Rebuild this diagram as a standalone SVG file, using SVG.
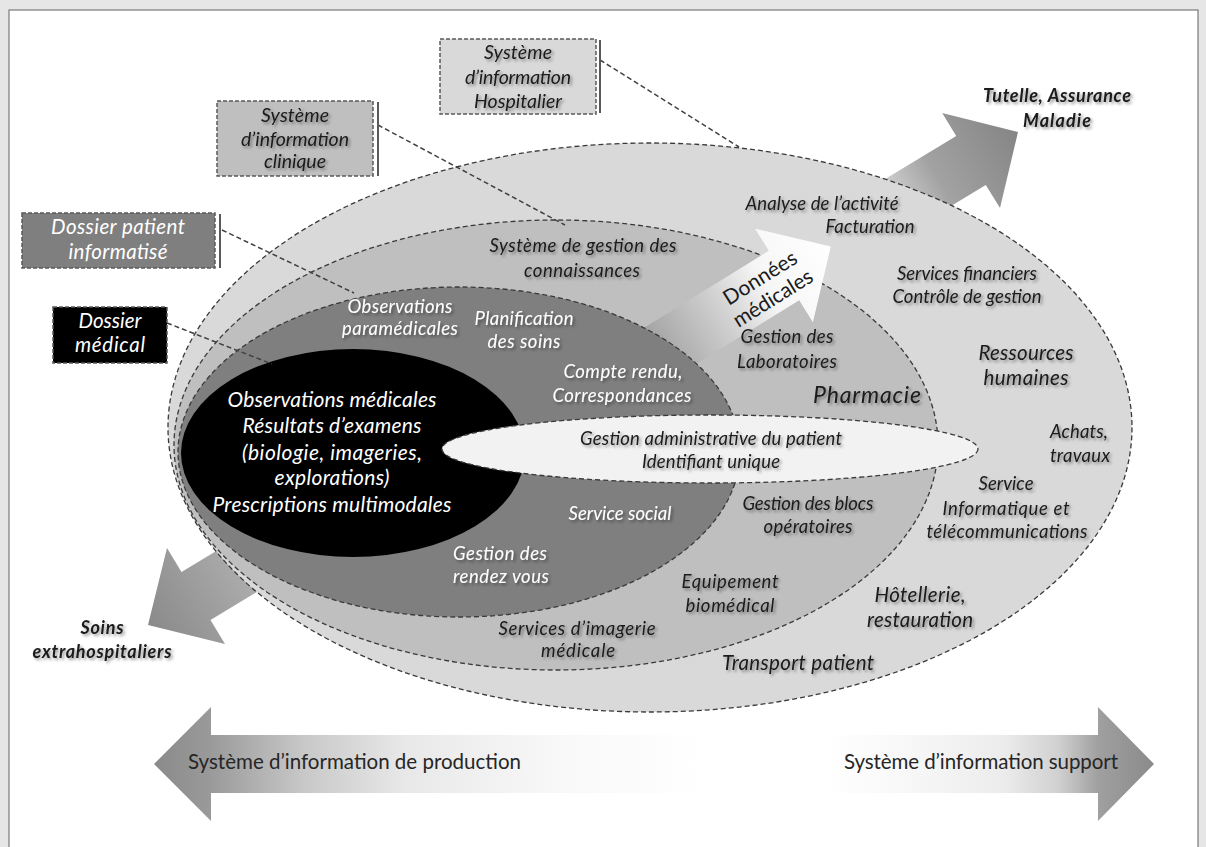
<svg xmlns="http://www.w3.org/2000/svg" width="1206" height="847" viewBox="0 0 1206 847">
<style>
.t{font-family:Lato,"Open Sans","Liberation Sans",sans-serif;font-style:italic;font-size:18.5px;fill:#1a1a1a;text-anchor:middle}
.w{fill:#ffffff}
.big{font-size:20.5px}
.bx{font-size:19.5px}
.bold{font-weight:bold}
.n{font-style:normal}
.ell{stroke:#3a3a3a;stroke-width:1.3;stroke-dasharray:5 3}
.box{stroke:#595959;stroke-width:1.5;stroke-dasharray:4 2}
.con{fill:none;stroke:#404040;stroke-width:1.5;stroke-dasharray:5 3}
.bar{stroke:#595959;stroke-width:2}
</style>
<defs>
<filter id="sh" x="-10%" y="-30%" width="120%" height="160%">
<feDropShadow dx="2" dy="2" stdDeviation="1.6" flood-color="#000" flood-opacity="0.4"/>
</filter>
<linearGradient id="gDon" gradientUnits="userSpaceOnUse" x1="648" y1="359.5" x2="831" y2="246.6">
<stop offset="0" stop-color="#9c9c9c"/><stop offset="0.4" stop-color="#cfcfcf"/><stop offset="0.65" stop-color="#f6f6f6"/><stop offset="1" stop-color="#ffffff"/>
</linearGradient>
<linearGradient id="gTut" gradientUnits="userSpaceOnUse" x1="843" y1="238" x2="1018" y2="132">
<stop offset="0" stop-color="#dadada"/><stop offset="0.3" stop-color="#d2d2d2"/><stop offset="0.55" stop-color="#a2a2a2"/><stop offset="1" stop-color="#858585"/>
</linearGradient>
<linearGradient id="gSoi" gradientUnits="userSpaceOnUse" x1="324.5" y1="518.3" x2="148" y2="625">
<stop offset="0" stop-color="#c4c4c4"/><stop offset="0.4" stop-color="#b0b0b0"/><stop offset="1" stop-color="#8a8a8a"/>
</linearGradient>
<linearGradient id="gBot" gradientUnits="userSpaceOnUse" x1="154" y1="0" x2="1154" y2="0">
<stop offset="0" stop-color="#8a8a8a"/><stop offset="0.057" stop-color="#9a9a9a"/><stop offset="0.15" stop-color="#c8c8c8"/><stop offset="0.25" stop-color="#e8e8e8"/><stop offset="0.4" stop-color="#f8f8f8"/><stop offset="0.55" stop-color="#ffffff"/><stop offset="0.67" stop-color="#ffffff"/><stop offset="0.75" stop-color="#f8f8f8"/><stop offset="0.85" stop-color="#ececec"/><stop offset="0.905" stop-color="#d0d0d0"/><stop offset="0.944" stop-color="#a0a0a0"/><stop offset="1" stop-color="#8a8a8a"/>
</linearGradient>
</defs>

<rect x="0" y="0" width="1206" height="847" fill="#e6e6e6"/>
<rect x="9" y="10" width="1189" height="845" fill="#ffffff" stroke="#7a7a7a" stroke-width="1.2"/>

<g id="arrow-soins">
<polygon points="310,494.3 339,542.3 210.5,620 225,644 148,625 167,548 181.5,572" fill="url(#gSoi)"/>
</g>
<g id="arrow-tutelle">
<polygon points="828.2,213.6 956.2,136.1 942.2,113 1018,132 1000,208 985.8,184.9 857.8,262.4" fill="url(#gTut)"/>
</g>

<g id="si-hospitalier-zone">
<ellipse cx="650" cy="427.5" rx="482" ry="284.5" fill="#d9d9d9" class="ell"/>
</g>
<g id="si-clinique-zone">
<ellipse cx="556" cy="445" rx="382" ry="225" fill="#bfbfbf" class="ell"/>
</g>
<g id="arrow-donnees">
<polygon points="632.8,334.8 768.8,250.8 755.1,228.7 830.8,246.6 812.9,322.3 799.2,300.2 663.2,384.2" fill="url(#gDon)"/>
</g>
<g id="dpi-zone">
<ellipse cx="459" cy="452" rx="281" ry="165" fill="#7f7f7f" class="ell"/>
</g>
<g id="dossier-medical-zone">
<ellipse cx="353" cy="453" rx="172" ry="104" fill="#000000"/>
</g>
<g id="gestion-admin-zone">
<ellipse cx="710" cy="449" rx="268" ry="34" fill="#f2f2f2" class="ell"/>
</g>

<g id="connectors">
<line class="con" x1="600" y1="60" x2="739" y2="147"/>
<line class="con" x1="378" y1="125" x2="565" y2="225"/>
<line class="con" x1="222" y1="230" x2="354" y2="293"/>
<line class="con" x1="167" y1="323" x2="272" y2="364"/>
</g>

<g id="box-hospitalier">
<rect x="440" y="39" width="156" height="75" fill="#d9d9d9" class="box"/>
<line class="bar" x1="600" y1="40" x2="600" y2="113"/>
<g class="t bx" filter="url(#sh)">
<text x="518" y="59" textLength="68">Système</text>
<text x="518" y="84" textLength="106">d’information</text>
<text x="518" y="108" textLength="88">Hospitalier</text>
</g>
</g>
<g id="box-clinique">
<rect x="217" y="101" width="156" height="75" fill="#bfbfbf" class="box"/>
<line class="bar" x1="378" y1="102" x2="378" y2="176"/>
<g class="t bx" filter="url(#sh)">
<text x="295" y="122" textLength="68">Système</text>
<text x="295" y="146" textLength="108">d’information</text>
<text x="295" y="168" textLength="62">clinique</text>
</g>
</g>
<g id="box-dpi">
<rect x="22" y="213" width="193" height="55" fill="#7f7f7f" class="box"/>
<line class="bar" x1="220" y1="214" x2="220" y2="268"/>
<g class="t w big">
<text x="118" y="234" textLength="134">Dossier patient</text>
<text x="118" y="259" textLength="99">informatisé</text>
</g>
</g>
<g id="box-dossier-medical">
<rect x="53" y="307" width="114" height="56" fill="#000000" class="box"/>
<g class="t w big">
<text x="110" y="328" textLength="63">Dossier</text>
<text x="110" y="352" textLength="70">médical</text>
</g>
</g>

<g id="labels-outer" class="t" filter="url(#sh)">
<text x="822" y="210" textLength="153">Analyse de l’activité</text>
<text x="870" y="233" textLength="89">Facturation</text>
<text x="967" y="280" textLength="140">Services financiers</text>
<text x="967" y="303" textLength="149">Contrôle de gestion</text>
<text x="1026" y="360" class="big" textLength="95">Ressources</text>
<text x="1026" y="385" class="big" textLength="85">humaines</text>
<text x="1079" y="438" textLength="58">Achats,</text>
<text x="1080" y="462" textLength="60">travaux</text>
<text x="1006" y="490" textLength="55">Service</text>
<text x="1006" y="515" textLength="127">Informatique et</text>
<text x="1007" y="538" textLength="161">télécommunications</text>
<text x="920" y="602" class="big" textLength="91">Hôtellerie,</text>
<text x="920" y="627" class="big" textLength="106">restauration</text>
<text x="798" y="670" class="big" textLength="152">Transport patient</text>
</g>

<g id="labels-middle" class="t" filter="url(#sh)">
<text x="583" y="252" textLength="187">Système de gestion des</text>
<text x="582" y="277" textLength="116">connaissances</text>
<text x="787" y="343" textLength="93">Gestion des</text>
<text x="787" y="368" textLength="100">Laboratoires</text>
<text x="867" y="403" style="font-size:23px" textLength="108">Pharmacie</text>
<text x="808" y="510" textLength="131">Gestion des blocs</text>
<text x="808" y="533" textLength="89">opératoires</text>
<text x="730" y="588" textLength="97">Equipement</text>
<text x="730" y="612" textLength="89">biomédical</text>
<text x="577" y="635" textLength="157">Services d’imagerie</text>
<text x="578" y="657" textLength="74">médicale</text>
</g>

<g id="labels-dpi" class="t w" filter="url(#sh)">
<text x="400" y="313" textLength="105">Observations</text>
<text x="400" y="335" textLength="116">paramédicales</text>
<text x="524" y="325" textLength="99">Planification</text>
<text x="524" y="348" textLength="73">des soins</text>
<text x="623" y="378" textLength="119">Compte rendu,</text>
<text x="622" y="402" textLength="139">Correspondances</text>
<text x="620" y="520" textLength="103">Service social</text>
<text x="500" y="560" textLength="94">Gestion des</text>
<text x="501" y="583" textLength="96">rendez vous</text>
</g>

<g id="labels-dossier-medical" class="t w" style="font-size:21px">
<text x="332" y="407" textLength="209">Observations médicales</text>
<text x="332" y="433" textLength="179">Résultats d’examens</text>
<text x="332" y="460" textLength="180">(biologie, imageries,</text>
<text x="332" y="485" textLength="115">explorations)</text>
<text x="332" y="512" textLength="239">Prescriptions multimodales</text>
</g>

<g id="labels-admin" class="t" filter="url(#sh)">
<text x="711" y="445" textLength="262">Gestion administrative du patient</text>
<text x="711" y="468" textLength="138">Identifiant unique</text>
</g>

<g id="label-donnees" class="t n" style="font-size:21px" transform="translate(767,289) rotate(-32)">
<text x="0" y="-6" textLength="83">Données</text>
<text x="0" y="18" textLength="90">médicales</text>
</g>

<g id="label-tutelle" class="t bold" style="font-size:18px" filter="url(#sh)">
<text x="1057" y="102" textLength="148">Tutelle, Assurance</text>
<text x="1057" y="127" textLength="68">Maladie</text>
</g>
<g id="label-soins" class="t bold" style="font-size:18px" filter="url(#sh)">
<text x="102" y="634" textLength="43">Soins</text>
<text x="102" y="658" textLength="139">extrahospitaliers</text>
</g>

<g id="axis-arrow">
<polygon points="154,764 211,707 211,735 1098,735 1098,707 1154,764 1098,821 1098,793 211,793 211,821" fill="url(#gBot)"/>
<text class="t n" x="188" y="769" style="text-anchor:start;font-size:20.5px;fill:#262626" textLength="333">Système d’information de production</text>
<text class="t n" x="844" y="769" style="text-anchor:start;font-size:20.5px;fill:#262626" textLength="274">Système d’information support</text>
</g>
</svg>
